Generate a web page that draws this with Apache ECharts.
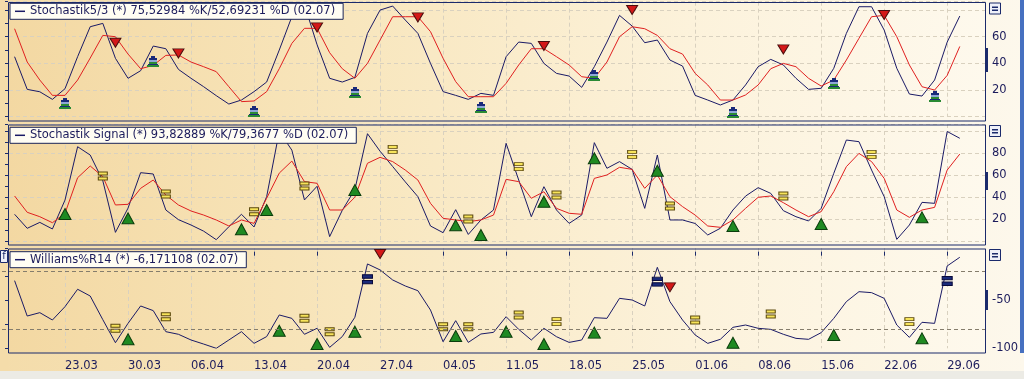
<!DOCTYPE html>
<html><head><meta charset="utf-8">
<script src="https://cdn.jsdelivr.net/npm/echarts@6/dist/echarts.min.js"></script>
<style>html,body{margin:0;padding:0;background:#f7ebcd;}#c{width:1024px;height:379px;}</style>
</head><body><div id="c"></div>
<script>
// ---------- data (x = trading-day index, Mon 16.03.2015 = 0; first point Tue 17.03 = 1) ----------
const weekLabels = ['23.03','30.03','06.04','13.04','20.04','27.04','04.05','11.05','18.05','25.05','01.06','08.06','15.06','22.06','29.06'];
const legendNames = [
  'Stochastik5/3 (*) 75,52984 %K/52,69231 %D (02.07)',
  'Stochastik Signal (*) 93,82889 %K/79,3677 %D (02.07)',
  'Williams%R14 (*) -6,171108 (02.07)'
];
const stoch1K = [45,20.5,18.7,13,21,45,67.5,70,43.8,28.8, 34.5,53,51,35.5,28.8,22.5,15.8,9.5,12.5,18.8, 26,50,75,84,54,28.8,26,29.5,62.5,80, 83,72.5,62.5,40,18.8,16,13,17.5,16,45, 56,55,40,32.5,30.5,22,37.5,56,76,68, 55.5,57.5,42.5,38,16,12.5,8.8,12.5,23.8,37.5, 43,38.8,28.8,20.5,21.3,36.3,62.5,82.5,82.5,65, 36.3,17,15.5,27.5,56,75.5];
const stoch1D = [66,41,27.5,16,16,27.5,44,61,60,47, 36,38.5,46,46.3,41,37.5,33.8,22.5,11.3,11.8, 18.8,36,55,66.3,66.3,48,36,28.8,40,57.5, 75,75,75,63.8,43.8,26.3,15,15,15,25, 38.8,51,51,45,38.8,30,28.8,41,60,67.5, 66,61,51,47,32.5,23.8,12.5,12.5,16.3,23.8, 36,40,37.5,28.8,23,27.5,42.5,58.8,75,76, 60,38.8,22.5,20,31,52.7];
const stoch1Sell = [[9,55.5],[14,47.5],[25,67],[33,74.5],[43,53],[50,80],[62,50.5],[70,76.3]];
const stoch1Buy = [[5,9.5],[12,41.3],[20,3.8],[28,18],[38,6.3],[47,30.5],[58,2.5],[66,24.5],[74,15]];

const stoch2K = [24.4,11.6,17,11,37.4,86.1,78.5,55,7.9,30, 62.4,61.2,28.3,19.5,14.6,9,1.2,13,24.4,12.8, 40.5,100,83,37.5,50,4,28,47,98,82, 68,54,40.5,13.7,7.6,28.6,6,19.2,28.3,89.2, 55.7,22.2,49.6,28.3,16.1,23.7,89.8,66.4,72.5,65.4, 29.8,78.5,19.2,19.2,16,5.5,11.6,28.3,41,48.7, 43.5,27.7,22.2,18.3,29.8,61.8,92.2,90.7,64.8,40.5, 1.5,14.6,35.3,34.4,100,93.8];
const stoch2D = [41.1,26.2,22.2,16.7,25.3,57.8,68.5,58.8,32.9,33.5, 48.1,55.7,42,32.9,27.4,23.7,19.2,13.7,19.2,16.1, 39,62,73,54.2,52.7,28.3,28.3,40,71,76.4, 72.5,64.8,55.7,34.4,20.7,19.2,17.7,19.2,23.7,56.3, 54.2,39,45,29.8,25.3,24.4,57.2,60.3,67.3,65.4, 48.1,60.3,40.5,31.4,23.7,13.7,12.5,19.2,29.8,39.9, 41.1,35,28.3,22.2,26.8,45,67.9,80,72.5,57.2, 28.3,21.6,28.3,30.7,64.8,79.4];
const stoch2Up = [[5,24.7],[10,20.7],[19,10.7],[21,28.3],[28,46.6],[36,14.3],[38,5.5],[43,35.9],[47,75.5],[52,64.2],[58,13.7],[65,15.5],[73,21.6]];
const stoch2Eq = [[8,59.4],[13,42.9],[20,26.8],[24,50.2],[31,83.7],[37,20.1],[41,67.9],[44,42],[50,79.1],[53,32],[62,41.1],[69,79.1]];

const williams = [-30,-66.6,-63.1,-70.7,-56.9,-38.9,-45.9,-70.4,-94.2,-74.2, -56.2,-61,-82.8,-85.5,-91.4,-95.6,-100,-91.4,-82.8,-94.9, -87.9,-65.5,-69,-85.5,-79.3,-99,-87.9,-67.9,-12.7,-18.9, -29.3,-35.5,-40.4,-60.4,-93.2,-71.4,-93.9,-85.2,-83.5,-67.3, -80.4,-91.4,-79.3,-88,-93.9,-91.4,-68.3,-69,-48.3,-50, -56.2,-16.2,-51.7,-70.7,-86.2,-94.9,-90.7,-78.3,-75.9,-79.3, -80.4,-85.5,-89.7,-90.7,-83.8,-69,-51.7,-41.4,-42.4,-48.3, -75.9,-88.7,-73.1,-74.2,-14.8,-5.8];
const williamsLevels = [-20, -80];
const williamsUp = [[10,-90.7],[22,-81.8],[25,-95.6],[28,-82.8],[36,-87.3],[40,-82.8],[43,-95.6],[47,-83.8],[58,-94.2],[66,-86.3],[73,-89.7]];
const williamsEq = [[9,-79.3],[13,-67.3],[24,-69],[26,-82.8],[35,-77.6],[37,-77.6],[41,-65.5],[44,-72.4],[55,-70.7],[61,-64.5],[72,-72.4]];
const williamsEqStrong = [[29,-28.6],[52,-31],[75,-30.3]];
const williamsDown = [[30,-2.4],[53,-36.9]];

const yLabels1 = [20,40,60];
const yLabels2 = [20,40,60,80];
const yLabels3 = [-50,-100];

// ---------- styling ----------
const FONT = 'DejaVu Sans';
const FS = 11.5;
const NAVY = '#1b2a6b';
const LINE = '#1a1a66';
const RED = '#e02020';
const TXT = '#1c1c5c';
const GRIDC = '#d9d1bf';
const pairs = a => a.map((v, i) => [i + 1, v]);

const chart = echarts.init(document.getElementById('c'), null, {renderer: 'canvas'});
const panelGrad = () => new echarts.graphic.LinearGradient(0, 0, 1, 0, [
  {offset: 0, color: '#f3d8a2'}, {offset: 0.35, color: '#f8e6bd'},
  {offset: 0.7, color: '#fcf2db'}, {offset: 1, color: '#fef9ed'}]);
const pageGrad = () => new echarts.graphic.LinearGradient(0, 0, 1, 0, [
  {offset: 0, color: '#f4dcaa'}, {offset: 0.5, color: '#f9ebcb'}, {offset: 1, color: '#fdf8ec'}]);

const panels = [ {top: 2, bottom: 120.5, bar: [48, 72]}, {top: 124.5, bottom: 244.5, bar: [172, 190]}, {top: 248.5, bottom: 352.5, bar: [290, 310]} ];
const grids = [
  {left: 2, top: 1.7, width: 983, height: 115, min: 0, max: 86.27, interval: 20, tick: 10, labels: yLabels1},
  {left: 2, top: 124, width: 983, height: 117, min: 0, max: 106.85, interval: 20, tick: 10, labels: yLabels2},
  {left: 2, top: 248, width: 983, height: 100.3, min: -100, max: 3.8, interval: 50, tick: 25, labels: yLabels3}
];

const fmtX = v => (v % 5 === 0 && v >= 5 && v <= 75) ? weekLabels[v / 5 - 1] : '';

const xAxes = grids.map((g, gi) => ({
  type: 'value', gridIndex: gi, min: 0, max: 78, interval: 5,
  offset: gi === 2 ? 4.4 : 0,
  axisLine: {show: false},
  axisTick: {show: gi === 2, length: 4, lineStyle: {color: NAVY}},
  axisLabel: {show: gi === 2, align: 'left', margin: 7, color: TXT, fontFamily: FONT, fontSize: FS, formatter: fmtX, hideOverlap: false},
  splitLine: {show: true, lineStyle: {color: GRIDC, type: [4, 3], width: 1}}
}));
const yRight = grids.map((g, gi) => ({
  type: 'value', gridIndex: gi, position: 'right', min: g.min, max: g.max, interval: g.interval,
  axisLine: {show: false},
  axisTick: {show: true, length: 4, lineStyle: {color: NAVY}},
  axisLabel: {margin: 7, color: TXT, fontFamily: FONT, fontSize: FS, formatter: v => g.labels.includes(v) ? String(v) : ''},
  splitLine: {show: gi < 2, lineStyle: {color: GRIDC, type: [4, 3], width: 1}}
}));
const yLeft = grids.map((g, gi) => ({
  type: 'value', gridIndex: gi, position: 'left', offset: -6, min: g.min, max: g.max, interval: g.tick, z: 5,
  axisLine: {show: false}, axisTick: {show: true, length: 3, lineStyle: {color: NAVY}},
  axisLabel: {show: false}, splitLine: {show: false}
}));

const triDown = 'path://M0,0 L12,0 L6,10 Z';
const triUp = 'path://M6,0 L12,10 L0,10 Z';
const eqSym = 'path://M0,0 H10 V3 H0 Z M0,5 H10 V8 H0 Z';

function buyIcon(params, api) {
  const p = api.coord([api.value(0), api.value(1)]);
  const x = Math.round(p[0]), y = Math.round(p[1]);
  const r = (dx, dy, w, h, c) => ({type: 'rect', shape: {x: x + dx, y: y + dy, width: w, height: h}, style: {fill: c}});
  return {type: 'group', children: [
    r(-2, -6, 4, 2, '#1a2a7a'), r(-4, -4, 8, 2, '#1a2a7a'), r(-4, -2, 8, 2, '#8ea6d6'),
    r(-4, 0, 8, 2, '#2a8a34'), r(-5, 2, 10, 1, '#1a2a7a'), r(-6, 3, 12, 2, '#2a8a34')
  ]};
}

const lineS = (name, gi, data, color) => ({
  type: 'line', name, xAxisIndex: gi, yAxisIndex: gi, data: pairs(data), showSymbol: false,
  lineStyle: {color, width: 1}, itemStyle: {color}, animation: false, z: 2, silent: true
});
const scat = (gi, data, symbol, size, color, border) => ({
  type: 'scatter', xAxisIndex: gi, yAxisIndex: gi, data, symbol, symbolSize: size,
  itemStyle: {color, borderColor: border, borderWidth: 1, opacity: 1}, animation: false, z: 4, silent: true
});

const series = [
  lineS(legendNames[0], 0, stoch1K, LINE),
  lineS('Stoch1 %D', 0, stoch1D, RED),
  scat(0, stoch1Sell, triDown, [11, 9], '#d41818', '#4a0e0e'),
  {type: 'custom', xAxisIndex: 0, yAxisIndex: 0, data: stoch1Buy, renderItem: buyIcon, animation: false, z: 4, silent: true},
  lineS(legendNames[1], 1, stoch2K, LINE),
  lineS('Stoch2 %D', 1, stoch2D, RED),
  scat(1, stoch2Up, triUp, [12, 11], '#1f8a22', '#0b3d0c'),
  scat(1, stoch2Eq, eqSym, [9, 8], '#f7e45a', '#5c4a10'),
  Object.assign(lineS(legendNames[2], 2, williams, LINE), {
    markLine: {silent: true, symbol: 'none', label: {show: false}, animation: false,
      lineStyle: {color: '#857d6c', type: [4, 3], width: 1},
      data: williamsLevels.map(v => ({yAxis: v}))}
  }),
  scat(2, williamsUp, triUp, [12, 11], '#1f8a22', '#0b3d0c'),
  scat(2, williamsEq, eqSym, [9, 8], '#f7e45a', '#5c4a10'),
  scat(2, williamsEqStrong, eqSym, [10, 9], '#1a2a7a', '#0a0a3a'),
  scat(2, williamsDown, triDown, [11, 9], '#d41818', '#4a0e0e')
];

const legendTops = [3.3, 127.3, 251.7];
const legends = legendNames.map((n, i) => ({
  data: [{name: n, icon: 'rect'}], left: 10, top: legendTops[i], itemWidth: 10, itemHeight: 1.5, itemGap: 0,
  padding: [2, 8, 2, 5], backgroundColor: '#fffdf3', borderColor: '#1a2458', borderWidth: 1, borderRadius: 0,
  textStyle: {color: TXT, fontFamily: FONT, fontSize: FS}, selectedMode: false, z: 6
}));

const graphics = [
  {type: 'rect', z: -2, silent: true, shape: {x: 0, y: 0, width: 1024, height: 379}, style: {fill: pageGrad()}}
];
panels.forEach((p, i) => {
  graphics.push({type: 'rect', z: -1, silent: true, shape: {x: 8, y: p.top, width: 977, height: p.bottom - p.top}, style: {fill: panelGrad()}});
});
graphics.push({type: 'rect', z: 1, silent: true, shape: {x: 0, y: 0, width: 7.6, height: 372}, style: {fill: '#f4dcaa'}});
panels.forEach((p, i) => {
  graphics.push({type: 'rect', z: 1, silent: true, shape: {x: 8.5, y: p.top + 0.5, width: 977, height: p.bottom - p.top}, style: {fill: null, stroke: NAVY, lineWidth: 1}});
  graphics.push({type: 'rect', z: 1, silent: true, shape: {x: 985, y: p.bar[0], width: 3, height: p.bar[1] - p.bar[0]}, style: {fill: NAVY}});
  const bt = p.top + 0.5;
  graphics.push({type: 'rect', z: 6, silent: true, shape: {x: 989.5, y: bt + 0.5, width: 11, height: 11}, style: {fill: '#eef0f8', stroke: NAVY, lineWidth: 1}});
  graphics.push({type: 'rect', z: 7, silent: true, shape: {x: 992, y: bt + 4, width: 6, height: 1.5}, style: {fill: NAVY}});
  graphics.push({type: 'rect', z: 7, silent: true, shape: {x: 992, y: bt + 7, width: 6, height: 1.5}, style: {fill: NAVY}});
});
graphics.push({type: 'rect', z: 6, silent: true, shape: {x: 0.5, y: 250.5, width: 7, height: 12}, style: {fill: '#eef0f8', stroke: NAVY, lineWidth: 1}});
graphics.push({type: 'text', z: 7, silent: true, style: {x: 4, y: 256.5, text: 'f', fill: NAVY, font: '10px DejaVu Sans', textAlign: 'center', textVerticalAlign: 'middle'}});
graphics.push({type: 'rect', z: 6, silent: true, shape: {x: 1020, y: 0, width: 4, height: 353}, style: {fill: '#4670c0'}});
graphics.push({type: 'rect', z: 6, silent: true, shape: {x: 0, y: 371, width: 1024, height: 8}, style: {fill: '#ecebe5'}});

chart.setOption({
  backgroundColor: '#f7ebcd',
  animation: false,
  grid: grids.map(g => ({left: g.left, top: g.top, width: g.width, height: g.height, show: false, containLabel: false, outerBoundsMode: 'none'})),
  xAxis: xAxes,
  yAxis: yRight.concat(yLeft),
  legend: legends,
  series,
  graphic: graphics
});
</script>
</body></html>
